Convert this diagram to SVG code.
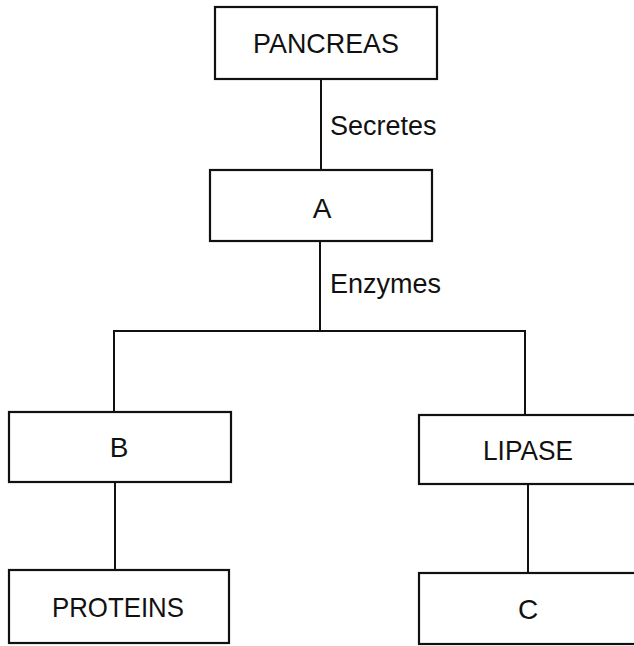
<svg xmlns="http://www.w3.org/2000/svg" width="634" height="646" viewBox="0 0 634 646">
<style>
.box{fill:#fff;stroke:#111;stroke-width:2.2}
.ln{fill:none;stroke:#111;stroke-width:2}
.t{font-family:"Liberation Sans",Arial,sans-serif;font-size:28px;fill:#111;text-anchor:middle}
.lbl{font-family:"Liberation Sans",Arial,sans-serif;font-size:27px;fill:#111}
</style>
<rect width="634" height="646" fill="#fff"/>
<g id="connectors">
<line class="ln" x1="321" y1="79" x2="321" y2="170"/>
<line class="ln" x1="320" y1="241" x2="320" y2="331"/>
<polyline class="ln" points="114,412 114,331 525,331 525,415"/>
<line class="ln" x1="115" y1="482" x2="115" y2="570"/>
<line class="ln" x1="528" y1="484" x2="528" y2="573"/>
<text class="lbl" x="330" y="135">Secretes</text>
<text class="lbl" x="330" y="293">Enzymes</text>
</g>
<g id="pancreas">
<rect class="box" x="215" y="7" width="222" height="72"/>
<text class="t" x="326" y="53" textLength="146" lengthAdjust="spacingAndGlyphs">PANCREAS</text>
</g>
<g id="a">
<rect class="box" x="210" y="170" width="222" height="71"/>
<text class="t" x="322" y="218">A</text>
</g>
<g id="b">
<rect class="box" x="9" y="412" width="222" height="70"/>
<text class="t" x="119" y="457">B</text>
</g>
<g id="lipase">
<rect class="box" x="419" y="415" width="230" height="69"/>
<text class="t" x="528" y="460" textLength="90" lengthAdjust="spacingAndGlyphs">LIPASE</text>
</g>
<g id="proteins">
<rect class="box" x="9" y="570" width="220" height="73"/>
<text class="t" x="118" y="617" textLength="132" lengthAdjust="spacingAndGlyphs">PROTEINS</text>
</g>
<g id="c">
<rect class="box" x="419" y="573" width="230" height="71"/>
<text class="t" x="528" y="619">C</text>
</g>
</svg>
